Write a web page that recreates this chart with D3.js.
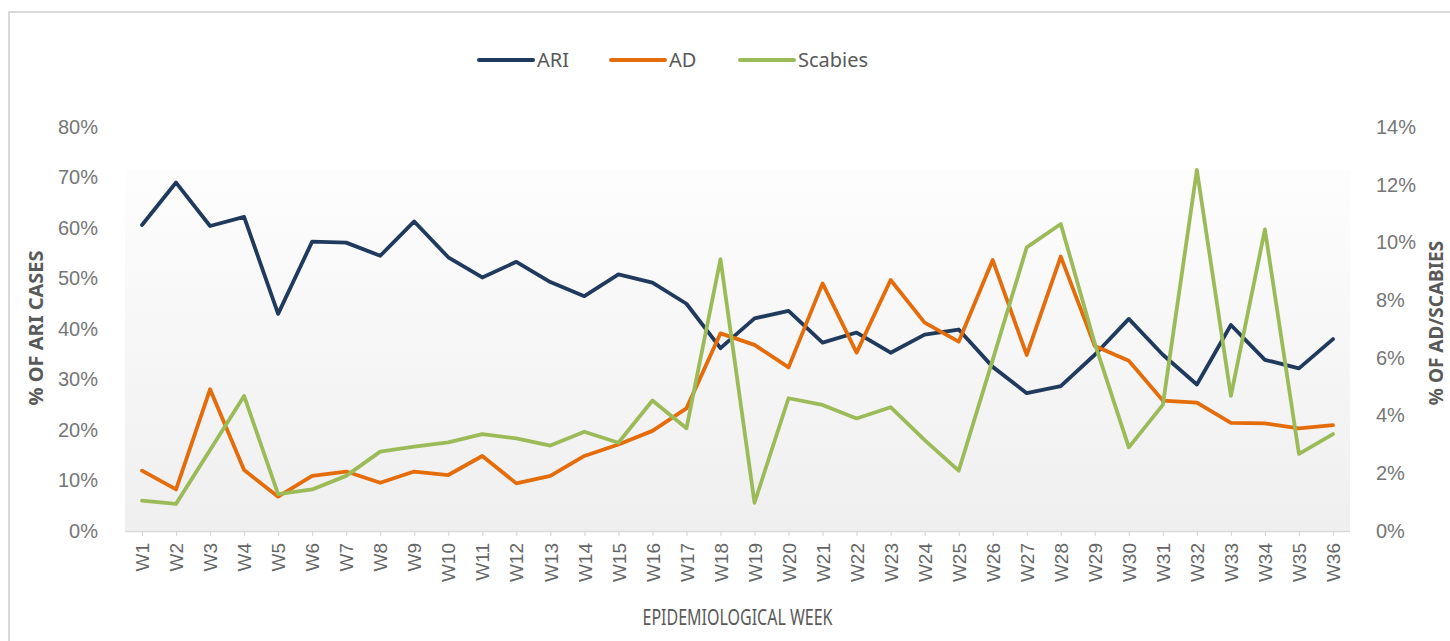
<!DOCTYPE html>
<html>
<head>
<meta charset="utf-8">
<script src="https://cdn.jsdelivr.net/npm/d3@7"></script>
<style>
  body { margin: 0; background: #fff; }
  svg { display: block; font-family: "Noto Sans", sans-serif; }
</style>
</head>
<body>
<script>
// weeks and series values
var weeks = ["W1","W2","W3","W4","W5","W6","W7","W8","W9","W10","W11","W12",
  "W13","W14","W15","W16","W17","W18","W19","W20","W21","W22","W23","W24",
  "W25","W26","W27","W28","W29","W30","W31","W32","W33","W34","W35","W36"];

var ari = [0.606,0.690,0.604,0.622,0.430,0.573,0.571,0.545,0.613,0.542,0.502,0.533,
  0.493,0.465,0.508,0.492,0.450,0.362,0.421,0.436,0.373,0.393,0.353,0.389,
  0.399,0.325,0.273,0.287,0.349,0.420,0.349,0.290,0.408,0.339,0.322,0.380];

var ad = [0.0209,0.0144,0.0491,0.0211,0.0119,0.0191,0.0206,0.0167,0.0206,0.0194,0.0260,0.0165,
  0.0191,0.0260,0.0300,0.0347,0.0425,0.0685,0.0645,0.0567,0.0858,0.0618,0.0870,0.0722,
  0.0656,0.0939,0.0610,0.0951,0.0641,0.0590,0.0452,0.0445,0.0375,0.0373,0.0356,0.0367];

var scabies = [0.0105,0.0094,0.0281,0.0468,0.0128,0.0144,0.0191,0.0275,0.0292,0.0307,0.0336,0.0321,
  0.0296,0.0344,0.0306,0.0452,0.0356,0.0942,0.0098,0.0460,0.0437,0.0390,0.0429,0.0315,
  0.0209,0.0593,0.0983,0.1064,0.0650,0.0290,0.0437,0.1251,0.0468,0.1045,0.0267,0.0336];

var leftTicks = [0,0.1,0.2,0.3,0.4,0.5,0.6,0.7,0.8];
var rightTicks = [0,0.02,0.04,0.06,0.08,0.10,0.12,0.14];

var seriesNames = ["ARI","AD","Scabies"];
var seriesColors = ["#203a5e","#e46c0a","#9bbb59"];

var width = 1450, height = 641;
var plotLeft = 125, plotRight = 1350, plotTop = 127, plotBottom = 531;

var svg = d3.select("body").append("svg")
  .attr("width", width)
  .attr("height", height);

// outer chart border
svg.append("rect")
  .attr("x", 9).attr("y", 12)
  .attr("width", width + 20).attr("height", height + 20)
  .attr("fill", "#fff")
  .attr("stroke", "#d9d9d9")
  .attr("stroke-width", 2);

// plot area gradient
var grad = svg.append("defs").append("linearGradient")
  .attr("id", "bg").attr("x1", 0).attr("y1", 0).attr("x2", 0).attr("y2", 1);
grad.append("stop").attr("offset", "0%").attr("stop-color", "#fdfdfd");
grad.append("stop").attr("offset", "100%").attr("stop-color", "#efefef");

svg.append("rect")
  .attr("x", plotLeft).attr("y", 170)
  .attr("width", plotRight - plotLeft).attr("height", plotBottom - 170)
  .attr("fill", "url(#bg)");

var x = d3.scalePoint().domain(weeks).range([plotLeft, plotRight]).padding(0.5);
var yL = d3.scaleLinear().domain([0, 0.8]).range([plotBottom, plotTop]);
var yR = d3.scaleLinear().domain([0, 0.14]).range([plotBottom, plotTop]);

// x axis
var xAxis = svg.append("g")
  .attr("transform", "translate(0," + plotBottom + ")")
  .call(d3.axisBottom(x).tickSize(5).tickPadding(8));
xAxis.select(".domain").attr("stroke", "#d9d9d9").attr("stroke-width", 1.5)
  .attr("d", "M" + plotLeft + ",0.5H" + plotRight);
xAxis.selectAll(".tick line").attr("stroke", "#d9d9d9").attr("stroke-width", 1.2);
xAxis.selectAll(".tick text")
  .attr("fill", "#666")
  .style("font-size", "19px")
  .attr("text-anchor", "end")
  .attr("dy", "0.35em")
  .attr("transform", "translate(0,12) rotate(-90)")
  .attr("x", 0).attr("y", 0);

// left axis
var lAxis = svg.append("g")
  .attr("transform", "translate(" + (plotLeft - 24) + ",0)")
  .call(d3.axisLeft(yL).tickValues(leftTicks).tickFormat(d3.format(".0%")).tickSize(0));
lAxis.select(".domain").remove();
lAxis.selectAll("text").attr("fill", "#767676").style("font-size", "20px");

// right axis
var rAxis = svg.append("g")
  .attr("transform", "translate(" + (plotRight + 23) + ",0)")
  .call(d3.axisRight(yR).tickValues(rightTicks).tickFormat(d3.format(".0%")).tickSize(0));
rAxis.select(".domain").remove();
rAxis.selectAll("text").attr("fill", "#767676").style("font-size", "20px");

// axis titles
svg.append("text")
  .attr("transform", "translate(36,328) rotate(-90)")
  .attr("text-anchor", "middle").attr("dy", "0.35em")
  .attr("fill", "#595959").style("font-size", "20px").style("font-weight", "bold")
  .text("% OF ARI CASES");

svg.append("text")
  .attr("transform", "translate(1436,323) rotate(-90)")
  .attr("text-anchor", "middle").attr("dy", "0.35em")
  .attr("fill", "#595959").style("font-size", "19px").style("font-weight", "bold")
  .text("% OF AD/SCABIES");

svg.append("text")
  .attr("x", (plotLeft + plotRight) / 2).attr("y", 617)
  .attr("text-anchor", "middle").attr("dy", "0.35em")
  .attr("fill", "#595959").style("font-size", "22px")
  .attr("textLength", 190).attr("lengthAdjust", "spacingAndGlyphs")
  .text("EPIDEMIOLOGICAL  WEEK");

// lines
var series = [
  { name: "ARI", values: ari, y: yL },
  { name: "AD", values: ad, y: yR },
  { name: "Scabies", values: scabies, y: yR }
];

series.forEach(function(s, i) {
  var line = d3.line()
    .x(function(d, j) { return x(weeks[j]); })
    .y(function(d) { return s.y(d); });
  svg.append("path")
    .datum(s.values)
    .attr("d", line)
    .attr("fill", "none")
    .attr("stroke", seriesColors[i])
    .attr("stroke-width", 3.8)
    .attr("stroke-linejoin", "round")
    .attr("stroke-linecap", "round");
});

// legend
var legendX = [479, 611, 740];
var legend = svg.selectAll(".legend")
  .data(seriesNames)
  .enter().append("g")
  .attr("transform", function(d, i) { return "translate(" + legendX[i] + ",60)"; });
legend.append("line")
  .attr("x1", 0).attr("x2", 54)
  .attr("stroke", function(d, i) { return seriesColors[i]; })
  .attr("stroke-width", 4)
  .attr("stroke-linecap", "round");
legend.append("text")
  .attr("x", 58).attr("dy", "0.35em")
  .attr("fill", "#595959").style("font-size", "20px")
  .text(function(d) { return d; });
</script>
</body>
</html>
